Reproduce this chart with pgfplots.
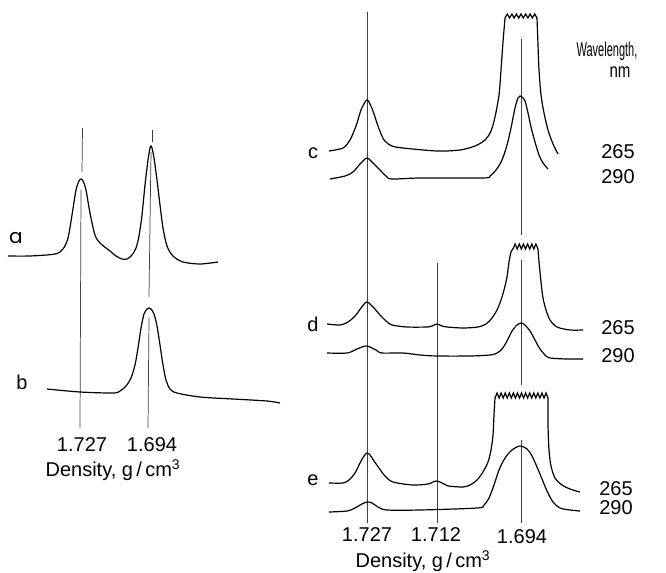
\documentclass[border=0pt]{standalone}
\usepackage{pgfplots}
\pgfplotsset{compat=1.18}
\usepackage{graphicx}
\usepackage{fontspec}
\setmainfont{Liberation Sans}
\newfontfamily\popp{Poppins}

\begin{document}
\begin{tikzpicture}[lbl/.style={font=\fontsize{15}{17}\selectfont, inner sep=0pt}]
\begin{axis}[
  x=0.75pt, y=0.75pt,
  xmin=0, xmax=666, ymin=0, ymax=573,
  y dir=reverse,
  hide axis,
  clip=false,
  trace/.style={black, line width=0.9pt, smooth, tension=0.5},
  zig/.style={black, line width=0.9pt},
  guide/.style={black!75, line width=0.55pt},
]
% frame of the picture
\addplot[draw=none] coordinates {(0,0) (666,573)};

% ---- left panel: guide lines
\addplot[guide] coordinates {(82.5,128) (82,172)};
\addplot[guide] coordinates {(81,190) (80,428)};
\addplot[guide] coordinates {(152,130) (152,142)};
\addplot[guide] coordinates {(151,152) (149,297)};
\addplot[guide] coordinates {(149,318) (148,428)};

% trace a
\addplot[trace] coordinates {
  (8,256) (30,256) (55,254) (63,249) (68,238) (72,215) (76,190) (79,181)
  (81,179) (83,181) (86,190) (90,213) (95,235) (100,243) (110,251) (116,256)
  (122,259) (127,259) (132,255) (136,248) (139,236) (142,215) (145,185)
  (148,160) (150,148) (151,146) (152,148) (154,158) (157,180) (160,205)
  (163,228) (167,246) (173,256) (183,262) (200,264) (218,262)
};
% trace b
\addplot[trace] coordinates {
  (47,389) (80,392) (113,393) (120,391) (126,386) (131,378) (135,365)
  (138,348) (141,328) (144,314) (147,309) (149,308) (151,309) (154,314)
  (157,326) (160,345) (163,365) (166,380) (170,389) (177,393) (200,397)
  (233,399) (267,401) (280,403)
};

\node[lbl] at (axis cs:16,238) {\popp a};
\node[lbl] at (axis cs:22,382) {b};
\node[lbl] at (axis cs:82,445) {1.727};
\node[lbl] at (axis cs:152,445) {1.694};
\node[lbl] at (axis cs:113,470) {Density,\ g\,/\,cm\textsuperscript{3}};

% ---- right panel: guide lines
\addplot[guide] coordinates {(367,12) (367,523)};
\addplot[guide] coordinates {(437,263) (437,523)};
\addplot[guide] coordinates {(521,39) (521,235)};
\addplot[guide] coordinates {(521,260) (521,385)};
\addplot[guide] coordinates {(521,440) (521,523)};

% trace c, 265 nm
\addplot[trace] coordinates {
  (329,151) (343,148) (350,140) (356,126) (361,110) (365,102) (367,100)
  (369,102) (373,111) (378,126) (384,140) (392,146) (403,148) (437,151)
  (460,150) (475,146) (485,140) (491,131) (495,117) (499,95) (501,70)
  (503,42) (505,18)
};
\addplot[zig] coordinates {
  (505,18) (507.3,14) (509.6,18) (511.9,14) (514.1,18) (516.4,14) (518.7,18)
  (521,14) (523.3,18) (525.6,14) (527.9,18) (530.1,14) (532.4,18) (534.7,14)
  (537,18)
};
\addplot[trace] coordinates {
  (537,18) (538,45) (539,70) (541,95) (544,113) (548,130) (553,144) (558,154)
};
% trace c, 290 nm
\addplot[trace] coordinates {
  (330,179) (345,176) (353,172) (360,164) (365,159) (367,158) (369,159)
  (374,164) (380,170) (386,176) (392,179) (420,178) (483,178) (490,176)
  (496,170) (502,160) (507,145) (511,128) (515,108) (518,98) (520,96)
  (522,97) (525,101) (528,113) (531,127) (535,142) (539,155) (543,163)
  (548,169)
};

% trace d, 265 nm
\addplot[trace] coordinates {
  (327,324) (340,325) (348,322) (355,316) (361,308) (365,303) (367,302)
  (369,303) (374,308) (380,315) (386,321) (392,325) (407,327) (427,327)
  (432,326) (437,324) (442,326) (447,327) (463,328) (478,327) (486,324)
  (492,318) (497,310) (501,300) (504,290) (507,277) (509,262) (511,252)
  (513,249)
};
\addplot[zig] coordinates {
  (513,249) (515.1,244) (517.2,249) (519.3,244) (521.3,249) (523.4,244)
  (525.5,249) (527.6,244) (529.7,249) (531.8,244) (533.8,249) (535.9,244)
  (538,249)
};
\addplot[trace] coordinates {
  (538,249) (539,262) (541,282) (543,298) (546,310) (550,320) (557,327)
  (570,330) (583,330)
};
% trace d, 290 nm
\addplot[trace] coordinates {
  (327,353) (347,353) (357,349) (362,347) (366,346) (370,347) (376,350)
  (382,353) (403,353) (420,355) (437,356) (470,356) (490,355) (497,353)
  (502,349) (507,341) (512,331) (517,325) (521,323) (525,325) (530,331)
  (535,340) (540,349) (545,355) (550,358) (567,359) (583,359)
};

% trace e, 265 nm
\addplot[trace] coordinates {
  (329,483) (343,483) (349,480) (355,473) (360,463) (364,456) (367,453)
  (370,455) (374,461) (379,468) (385,476) (393,482) (413,485) (428,484)
  (433,482) (436,481) (440,482) (444,484) (448,486) (463,487) (470,485)
  (477,480) (483,472) (488,462) (491,450) (493,435) (494,415) (495,398)
};
\addplot[zig] coordinates {
  (495,398) (497,393) (499.1,398) (501.1,393) (503.2,398) (505.2,393)
  (507.2,398) (509.3,393) (511.3,398) (513.4,393) (515.4,398) (517.4,393)
  (519.5,398) (521.5,393) (523.6,398) (525.6,393) (527.6,398) (529.7,393)
  (531.7,398) (533.8,393) (535.8,398) (537.8,393) (539.9,398) (541.9,393)
  (544,398) (546,393) (548,398)
};
\addplot[trace] coordinates {
  (548,398) (548,425) (549,450) (551,466) (555,478) (562,485) (570,489)
  (580,492)
};
% trace e, 290 nm
\addplot[trace] coordinates {
  (329,512) (347,511) (355,508) (362,504) (367,502) (372,503) (378,507)
  (387,510) (420,510) (477,508) (484,505) (489,498) (494,485) (499,470)
  (505,458) (512,450) (520,446) (527,449) (532,456) (537,467) (542,479)
  (547,491) (553,502) (560,508) (570,510) (580,511)
};

\node[lbl] at (axis cs:313,153) {c};
\node[lbl] at (axis cs:313,324) {d};
\node[lbl] at (axis cs:313,480) {e};

\node[lbl] at (axis cs:607,51) {\scalebox{0.55}[1]{Wavelength,}};
\node[lbl] at (axis cs:620,72) {\scalebox{0.75}[1]{nm}};
\node[lbl] at (axis cs:618,152) {265};
\node[lbl] at (axis cs:618,177) {290};
\node[lbl] at (axis cs:618,328) {265};
\node[lbl] at (axis cs:618,356) {290};
\node[lbl] at (axis cs:616,489) {265};
\node[lbl] at (axis cs:616,508) {290};

\node[lbl] at (axis cs:367,535) {1.727};
\node[lbl] at (axis cs:436,535) {1.712};
\node[lbl] at (axis cs:522,537) {1.694};
\node[lbl] at (axis cs:423,561) {Density,\ g\,/\,cm\textsuperscript{3}};
\end{axis}
\end{tikzpicture}
\end{document}
